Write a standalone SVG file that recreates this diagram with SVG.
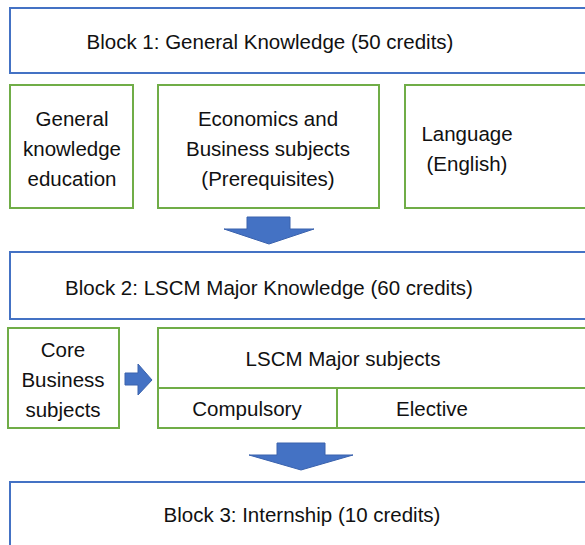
<svg xmlns="http://www.w3.org/2000/svg" width="585" height="545" viewBox="0 0 585 545">
<style>
.blk{fill:#fff;stroke:#4472C4;stroke-width:2}
.grn{fill:#fff;stroke:#70AD47;stroke-width:2}
.t{font-family:"Liberation Sans",Arial,sans-serif;font-size:20.5px;fill:#111;text-anchor:middle}
.arr{fill:#4472C4;stroke:#3A62AD;stroke-width:1}
</style>
<rect width="585" height="545" fill="#fff"/>
<g id="block1"><rect class="blk" x="10" y="8" width="600" height="65"/><text class="t" x="270" y="49">Block 1: General Knowledge (50 credits)</text></g>
<g id="general"><rect class="grn" x="10" y="85" width="123" height="123"/><text class="t" x="72" y="126">General</text><text class="t" x="72" y="156">knowledge</text><text class="t" x="72" y="186">education</text></g>
<g id="econ"><rect class="grn" x="158" y="85" width="221" height="123"/><text class="t" x="268" y="126">Economics and</text><text class="t" x="268" y="156">Business subjects</text><text class="t" x="268" y="186">(Prerequisites)</text></g>
<g id="language"><rect class="grn" x="405" y="85" width="200" height="123"/><text class="t" x="467" y="141">Language</text><text class="t" x="467" y="171">(English)</text></g>
<g id="block2"><rect class="blk" x="10" y="252" width="600" height="67"/><text class="t" x="269" y="295">Block 2: LSCM Major Knowledge (60 credits)</text></g>
<g id="core"><rect class="grn" x="8" y="328" width="111" height="100"/><text class="t" x="63" y="357">Core</text><text class="t" x="63" y="387">Business</text><text class="t" x="63" y="417">subjects</text></g>
<g id="major"><rect class="grn" x="158" y="328" width="450" height="100"/><line x1="158" y1="388" x2="608" y2="388" stroke="#70AD47" stroke-width="2"/><line x1="337" y1="388" x2="337" y2="428" stroke="#70AD47" stroke-width="2"/><text class="t" x="343" y="366">LSCM Major subjects</text><text class="t" x="247" y="416">Compulsory</text><text class="t" x="432" y="416">Elective</text></g>
<g id="block3"><rect class="blk" x="10" y="482" width="600" height="80"/><text class="t" x="302" y="522">Block 3: Internship (10 credits)</text></g>
<g id="connectors">
<polygon class="arr" points="247,217 290,217 290,229 314,229 269,244 224,229 247,229"/>
<polygon class="arr" points="125,373 138,373 138,364 152,380 138,395 138,385 125,385"/>
<polygon class="arr" points="277,443 325,443 325,455 353,455 301,470 249,455 277,455"/>
</g>
</svg>
